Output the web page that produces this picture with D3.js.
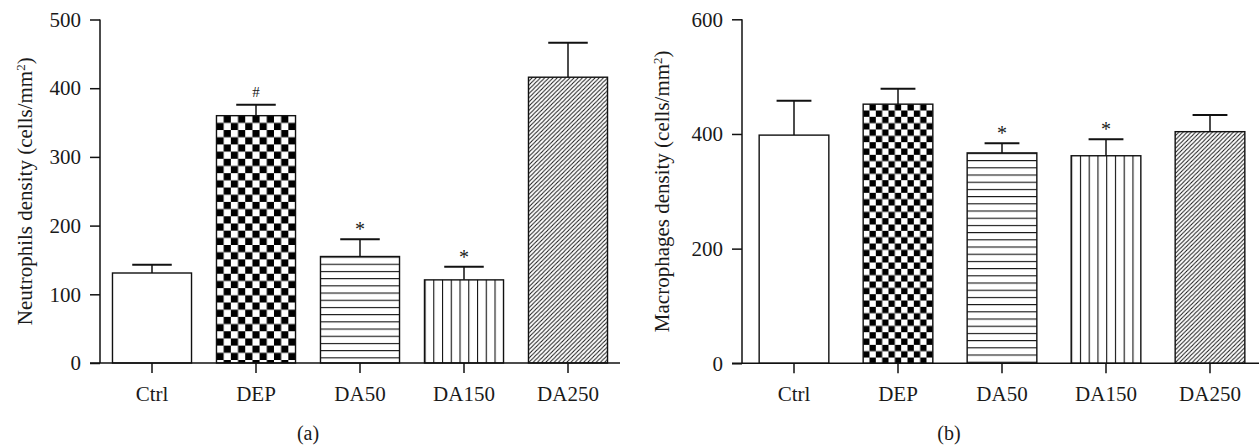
<!DOCTYPE html>
<html>
<head>
<meta charset="utf-8">
<script src="https://cdn.jsdelivr.net/npm/d3@7"></script>
<style>
  body { margin: 0; background: #fff; }
  text { font-family: "Liberation Serif", "Times New Roman", serif; fill: #1a1a1a; }
</style>
</head>
<body>
<svg width="1259" height="446"></svg>
<script>
var groups = ["Ctrl", "DEP", "DA50", "DA150", "DA250"];
var fills = ["white", "checker", "hlines", "vlines", "diag"];

var neutroMean = [131, 360, 155, 121, 416];
var neutroErr = [143, 376, 180, 140, 466];
var neutroMarks = ["", "#", "*", "*", ""];
var neutroTicks = [0, 100, 200, 300, 400, 500];

var macroMean = [398, 452, 367, 362, 404];
var macroErr = [458, 479, 384, 391, 433];
var macroMarks = ["", "", "*", "*", ""];
var macroTicks = [0, 200, 400, 600];

var svg = d3.select("svg");
var defs = svg.append("defs");

function panel(id, opt) {
    var x = d3.scaleBand().domain(groups).range(opt.xr)
        .paddingInner(opt.pin).paddingOuter(opt.pout);
    var y = d3.scaleLinear().domain([0, opt.max]).range(opt.yr);
    var g = svg.append("g");
    var bw = x.bandwidth();
    var data = groups.map(function(d, i) {
        return { name: d, v: opt.mean[i], e: opt.err[i], m: opt.marks[i], f: fills[i] };
    });

    // patterns, anchored at each bar's top-left
    data.forEach(function(d) {
        var px = x(d.name), py = y(d.v);
        var pid = id + "-" + d.f;
        if (d.f == "checker") {
            var s = bw / 11;
            var p = defs.append("pattern").attr("id", pid).attr("patternUnits", "userSpaceOnUse")
                .attr("x", px).attr("y", py).attr("width", 2 * s).attr("height", 2 * s);
            p.append("rect").attr("width", 2 * s).attr("height", 2 * s).attr("fill", "#fff");
            p.append("rect").attr("x", s).attr("width", s).attr("height", s).attr("fill", "#000");
            p.append("rect").attr("y", s).attr("width", s).attr("height", s).attr("fill", "#000");
        } else if (d.f == "hlines") {
            var p = defs.append("pattern").attr("id", pid).attr("patternUnits", "userSpaceOnUse")
                .attr("x", px).attr("y", py).attr("width", 10).attr("height", 7.2);
            p.append("rect").attr("width", 10).attr("height", 7.2).attr("fill", "#fff");
            p.append("line").attr("x1", 0).attr("x2", 10).attr("y1", 0).attr("y2", 0)
                .attr("stroke", "#111").attr("stroke-width", 2.2);
        } else if (d.f == "vlines") {
            var p = defs.append("pattern").attr("id", pid).attr("patternUnits", "userSpaceOnUse")
                .attr("x", px).attr("y", py).attr("width", 8.75).attr("height", 10);
            p.append("rect").attr("width", 8.75).attr("height", 10).attr("fill", "#fff");
            p.append("line").attr("x1", 0).attr("x2", 0).attr("y1", 0).attr("y2", 10)
                .attr("stroke", "#111").attr("stroke-width", 2.2);
        } else if (d.f == "diag") {
            var p = defs.append("pattern").attr("id", pid).attr("patternUnits", "userSpaceOnUse")
                .attr("x", px).attr("y", py).attr("width", 4.2).attr("height", 4.2);
            p.append("rect").attr("width", 4.2).attr("height", 4.2).attr("fill", "#fff");
            p.append("path").attr("d", "M-1,5.2 L5.2,-1 M-1,1 L1,-1 M3.2,5.2 L5.2,3.2")
                .attr("stroke", "#111").attr("stroke-width", 1);
        }
    });

    g.selectAll(".bar").data(data).enter().append("rect")
        .attr("class", "bar")
        .attr("x", function(d) { return x(d.name); })
        .attr("y", function(d) { return y(d.v); })
        .attr("width", bw)
        .attr("height", function(d) { return y(0) - y(d.v); })
        .attr("fill", function(d) { return d.f == "white" ? "#fff" : "url(#" + id + "-" + d.f + ")"; })
        .attr("stroke", "#111").attr("stroke-width", 1.4);

    // error bars
    g.selectAll(".eb").data(data).enter().append("line")
        .attr("x1", function(d) { return x(d.name) + bw / 2; })
        .attr("x2", function(d) { return x(d.name) + bw / 2; })
        .attr("y1", function(d) { return y(d.v); })
        .attr("y2", function(d) { return y(d.e); })
        .attr("stroke", "#111").attr("stroke-width", 1.5);
    g.selectAll(".cap").data(data).enter().append("line")
        .attr("x1", function(d) { return x(d.name) + bw / 4; })
        .attr("x2", function(d) { return x(d.name) + bw * 3 / 4; })
        .attr("y1", function(d) { return y(d.e); })
        .attr("y2", function(d) { return y(d.e); })
        .attr("stroke", "#111").attr("stroke-width", 2);

    g.selectAll(".mark").data(data.filter(function(d) { return d.m; })).enter().append("text")
        .attr("x", function(d) { return x(d.name) + bw / 2; })
        .attr("y", function(d) { return y(d.e) - (d.m == "#" ? 8 : 3); })
        .attr("text-anchor", "middle")
        .attr("font-size", d => d.m == "#" ? "15px" : "20px")
        .text(function(d) { return d.m; });

    // axes
    var yAx = g.append("g").attr("transform", "translate(" + opt.xr[0] + ",0)")
        .call(d3.axisLeft(y).tickValues(opt.ticks).tickSize(10).tickPadding(9).tickSizeOuter(0));
    var xAx = g.append("g").attr("transform", "translate(0," + y(0) + ")")
        .call(d3.axisBottom(x).tickSize(10).tickPadding(13).tickSizeOuter(0));
    [yAx, xAx].forEach(function(a) {
        a.select(".domain").remove();
        a.selectAll("line").attr("stroke", "#111").attr("stroke-width", 1.5);
        a.selectAll("text").attr("font-family", "Liberation Serif").attr("font-size", "21px").attr("fill", "#1a1a1a");
    });
    g.append("line").attr("x1", opt.xr[0]).attr("x2", opt.xr[0])
        .attr("y1", y(0)).attr("y2", y(opt.max)).attr("stroke", "#111").attr("stroke-width", 1.5);
    g.append("line").attr("x1", opt.xr[0] - 10).attr("x2", opt.xr[1])
        .attr("y1", y(0)).attr("y2", y(0)).attr("stroke", "#111").attr("stroke-width", 1.5);

    var lab = g.append("text")
        .attr("transform", "translate(" + opt.labX + "," + (opt.yr[0] + opt.yr[1]) / 2 + ") rotate(-90)")
        .attr("text-anchor", "middle").attr("dy", "0.35em").attr("font-size", "21px");
    lab.append("tspan").text(opt.label + " (cells/mm");
    lab.append("tspan").attr("baseline-shift", "super").attr("font-size", "13px").text("2");
    lab.append("tspan").text(")");

    g.append("text").attr("x", opt.capX).attr("y", 440)
        .attr("text-anchor", "middle").attr("font-size", "20px").text(opt.cap);
}

panel("a", { xr: [100, 620], yr: [363, 19.5], max: 500, pin: 0.24, pout: 0.12,
    mean: neutroMean, err: neutroErr, marks: neutroMarks, ticks: neutroTicks,
    label: "Neutrophils density", labX: 25, capX: 308, cap: "(a)" });
panel("b", { xr: [742, 1262], yr: [363.3, 19.3], max: 600, pin: 0.33, pout: 0.165,
    mean: macroMean, err: macroErr, marks: macroMarks, ticks: macroTicks,
    label: "Macrophages density", labX: 662, capX: 949, cap: "(b)" });
</script>
</body>
</html>
